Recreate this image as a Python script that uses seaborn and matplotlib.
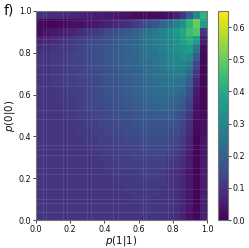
"""Heat map of the score over p(1|1) and p(0|0), panel f."""

import matplotlib
matplotlib.use("Agg")
import matplotlib.pyplot as plt
import numpy as np
import seaborn as sns

# rows run from p(0|0) = 0.98 at the top down to 0.02, columns p(1|1) = 0.02 to 0.98
scores = [
    [.09, .09, .08, .08, .07, .07, .06, .06, .05, .05, .04, .04, .03, .03, .02, .02, .02, .02, .02, .03, .06, .10, .18, .30, .42],
    [.02, .01, .01, .02, .02, .03, .03, .04, .04, .05, .06, .07, .08, .09, .11, .13, .15, .17, .20, .24, .28, .33, .42, .50, .36],
    [.02, .03, .04, .05, .06, .07, .08, .10, .11, .12, .14, .15, .17, .18, .20, .22, .24, .26, .29, .31, .35, .39, .45, .47, .10],
    [.06, .07, .08, .09, .10, .11, .12, .13, .14, .15, .16, .18, .19, .20, .21, .23, .25, .27, .28, .30, .33, .37, .41, .37, .05],
    [.09, .09, .10, .11, .11, .12, .13, .14, .15, .16, .17, .18, .19, .20, .22, .23, .25, .26, .28, .30, .32, .34, .36, .26, .02],
    [.10, .10, .11, .11, .12, .13, .13, .14, .15, .16, .17, .18, .19, .20, .21, .23, .24, .25, .27, .29, .30, .32, .31, .19, .01],
    [.10, .10, .11, .11, .12, .13, .13, .14, .15, .16, .17, .18, .19, .20, .21, .22, .23, .25, .26, .28, .29, .29, .26, .13, .01],
    [.10, .10, .11, .11, .12, .12, .13, .14, .14, .15, .16, .17, .18, .19, .20, .21, .23, .24, .25, .26, .27, .27, .22, .10, .01],
    [.10, .10, .11, .11, .12, .12, .13, .13, .14, .15, .16, .17, .18, .19, .20, .21, .22, .23, .24, .25, .25, .24, .19, .07, .01],
    [.10, .10, .10, .11, .11, .12, .12, .13, .14, .15, .16, .17, .18, .19, .20, .21, .22, .23, .23, .24, .23, .22, .16, .05, .01],
    [.10, .10, .10, .11, .11, .11, .12, .13, .14, .15, .16, .16, .17, .18, .19, .20, .21, .22, .22, .22, .21, .19, .14, .04, .01],
    [.10, .10, .10, .10, .11, .11, .12, .13, .14, .14, .15, .16, .16, .17, .18, .19, .20, .20, .21, .20, .19, .17, .12, .03, .01],
    [.10, .10, .10, .10, .11, .11, .12, .12, .13, .14, .14, .15, .16, .16, .17, .18, .18, .19, .19, .19, .17, .15, .10, .03, .02],
    [.10, .10, .10, .10, .10, .11, .11, .12, .12, .13, .14, .14, .15, .15, .16, .17, .17, .17, .17, .17, .16, .13, .09, .02, .03],
    [.10, .10, .10, .10, .10, .10, .11, .11, .12, .12, .13, .14, .14, .15, .15, .16, .16, .16, .16, .15, .15, .12, .08, .02, .03],
    [.10, .10, .10, .10, .10, .10, .10, .11, .11, .12, .12, .13, .13, .14, .14, .15, .15, .15, .15, .14, .13, .11, .07, .01, .04],
    [.10, .10, .10, .10, .10, .10, .10, .10, .11, .11, .12, .12, .13, .13, .13, .14, .14, .14, .14, .13, .12, .10, .06, .01, .04],
    [.10, .10, .10, .10, .10, .10, .10, .10, .10, .11, .11, .12, .12, .12, .13, .13, .13, .13, .13, .12, .11, .09, .05, .01, .04],
    [.10, .10, .10, .10, .10, .10, .10, .10, .10, .10, .11, .11, .12, .12, .12, .12, .12, .12, .12, .11, .10, .08, .05, .01, .05],
    [.10, .10, .10, .10, .10, .10, .10, .10, .10, .10, .10, .11, .11, .11, .11, .12, .12, .12, .11, .10, .09, .07, .04, .01, .05],
    [.10, .10, .10, .10, .10, .10, .10, .10, .10, .10, .10, .10, .11, .11, .11, .11, .11, .11, .11, .10, .09, .07, .04, .01, .05],
    [.10, .10, .10, .10, .10, .10, .10, .10, .10, .10, .10, .10, .10, .11, .11, .11, .11, .11, .10, .10, .09, .07, .04, .01, .05],
    [.10, .10, .10, .10, .10, .10, .10, .10, .10, .10, .10, .10, .10, .10, .11, .11, .11, .10, .10, .10, .09, .07, .04, .01, .06],
    [.10, .10, .10, .10, .10, .10, .10, .10, .10, .10, .10, .10, .10, .10, .10, .11, .11, .10, .10, .10, .09, .07, .04, .01, .06],
    [.10, .10, .10, .10, .10, .10, .10, .10, .10, .10, .10, .10, .10, .10, .10, .10, .10, .10, .10, .09, .08, .06, .03, .01, .06],
]
axis_ticks = [0.0, 0.2, 0.4, 0.6, 0.8, 1.0]
cbar_ticks = [0.0, 0.1, 0.2, 0.3, 0.4, 0.5, 0.6]

# faint seams between the mesh cells in the original
seams_x = [.04, .06, .16, .18, .30, .32, .45, .48, .625, .645, .77, .80]
seams_y = [.04, .08, .10, .15, .22, .25, .31, .34, .36, .483, .526, .64, .70, .742, .842, .866, .957]

sns.set_theme(style="white")
plt.rcParams["font.family"] = "DejaVu Sans"

fig = plt.figure(figsize=(2.49, 2.48), dpi=100)
ax = fig.add_axes([36 / 249, 1 - 220 / 248, 171 / 249, 209 / 248])
cax = fig.add_axes([218 / 249, 1 - 220 / 248, 10 / 249, 209 / 248])

sns.heatmap(scores, ax=ax, cbar_ax=cax, cmap="viridis", vmin=0, vmax=0.65,
            xticklabels=False, yticklabels=False)

n = len(scores)
ax.vlines(np.array(seams_x) * n, 0, n, color="white", lw=0.8, alpha=0.09)
ax.hlines((1 - np.array(seams_y)) * n, 0, n, color="white", lw=0.8, alpha=0.09)

ax.set_xticks(np.array(axis_ticks) * n)
ax.set_xticklabels([f"{t:.1f}" for t in axis_ticks], rotation=0)
ax.set_yticks((1 - np.array(axis_ticks)) * n)
ax.set_yticklabels([f"{t:.1f}" for t in axis_ticks], rotation=0)
ax.tick_params(left=True, bottom=True, length=2.2, width=0.6, labelsize=5.8, pad=1.2,
               color="#222222", labelcolor="#111111")
ax.set_xlabel(r"$p(1|1)$", fontsize=7.4, labelpad=0.2, color="#111111")
ax.set_ylabel(r"$p(0|0)$", fontsize=7.4, labelpad=1.5, color="#111111")
for spine in ax.spines.values():
    spine.set_visible(True)
    spine.set_color("#777777")
    spine.set_linewidth(0.8)

cbar = ax.collections[0].colorbar
cbar.set_ticks(cbar_ticks)
cbar.ax.tick_params(right=True, length=2.2, width=0.6, labelsize=5.8, pad=1.2,
                    color="#222222", labelcolor="#111111")
cbar.outline.set_visible(True)
cbar.outline.set_edgecolor("#777777")
cbar.outline.set_linewidth(0.8)

fig.text(4 / 249, 1 - 14 / 248, "f)", fontsize=10, color="#111111")

fig.savefig("out.png", dpi=100)
